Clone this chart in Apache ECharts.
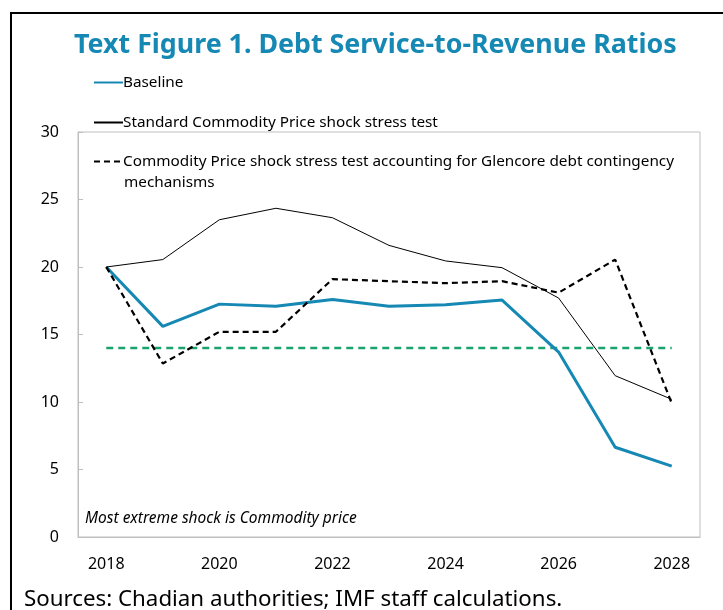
<!DOCTYPE html>
<html>
<head>
<meta charset="utf-8">
<script src="https://cdn.jsdelivr.net/npm/echarts@6/dist/echarts.min.js"></script>
<style>
  html, body { margin: 0; padding: 0; background: #fff; }
  #chart { width: 723px; height: 610px; }
</style>
</head>
<body>
<div id="chart"></div>
<script>
const years = ['2018', '2019', '2020', '2021', '2022', '2023', '2024', '2025', '2026', '2027', '2028'];
const baseline = [20.0, 15.6, 17.25, 17.1, 17.6, 17.1, 17.2, 17.55, 13.7, 6.65, 5.25];
const standardShock = [20.0, 20.55, 23.5, 24.35, 23.65, 21.6, 20.45, 19.95, 17.7, 11.95, 10.2];
const glencoreShock = [20.0, 12.85, 15.2, 15.2, 19.1, 18.95, 18.8, 18.95, 18.1, 20.55, 9.9];
const threshold = [14, 14, 14, 14, 14, 14, 14, 14, 14, 14, 14];

const names = {
  base: 'Baseline',
  std: 'Standard Commodity Price shock stress test',
  glen: 'Commodity Price shock stress test accounting for Glencore debt contingency',
};

const FONT = '"Noto Sans", sans-serif';
const BLUE = '#1688b4';

const chart = echarts.init(document.getElementById('chart'));

function legendFor(name, top) {
  return {
    data: [name],
    left: 88,
    top: top,
    itemWidth: 29,
    itemHeight: 14,
    itemGap: 0,
    selectedMode: false,
    itemStyle: { opacity: 0 },
    textStyle: { fontFamily: FONT, fontSize: 15.3, color: '#000', padding: [0, 0, 0, -5] },
  };
}

chart.setOption({
  animation: false,
  title: {
    text: 'Text Figure 1. Debt Service-to-Revenue Ratios',
    left: 69,
    top: 27,
    textStyle: { fontFamily: FONT, fontSize: 26.8, fontWeight: 'bold', color: BLUE },
  },
  legend: [
    legendFor(names.base, 70),
    legendFor(names.std, 110),
    legendFor(names.glen, 149),
  ],
  grid: { left: 78, right: 23, top: 132, bottom: 73, show: true, borderColor: '#bfbfbf', borderWidth: 1 },
  xAxis: {
    type: 'category',
    data: years,
    axisLine: { lineStyle: { color: '#bfbfbf' } },
    axisTick: { inside: true, interval: 1, length: 5, lineStyle: { color: '#bfbfbf' } },
    axisLabel: { interval: 1, margin: 19, fontFamily: FONT, fontSize: 16, color: '#000' },
  },
  yAxis: {
    type: 'value',
    min: 0,
    max: 30,
    interval: 5,
    splitLine: { show: false },
    axisLine: { show: true, lineStyle: { color: '#bfbfbf' } },
    axisTick: { show: true, inside: true, length: 5, lineStyle: { color: '#bfbfbf' } },
    axisLabel: { margin: 19, fontFamily: FONT, fontSize: 16, color: '#000' },
  },
  graphic: [
    { type: 'polyline', silent: true, shape: { points: [[11, 610], [11, 13], [723, 13]] }, style: { stroke: '#000', lineWidth: 2, fill: null } },
    { type: 'text', left: 124, top: 175, style: { text: 'mechanisms', font: '15.3px ' + FONT, fill: '#000' } },
    { type: 'text', left: 85, top: 511, style: { text: 'Most extreme shock is Commodity price', font: 'italic 15.5px ' + FONT, fill: '#000' } },
    { type: 'text', left: 24, top: 589, style: { text: 'Sources: Chadian authorities; IMF staff calculations.', font: '22.3px ' + FONT, fill: '#000' } },
  ],
  series: [
    {
      name: names.base, type: 'line', data: baseline, symbol: 'none',
      lineStyle: { color: BLUE, width: 3 }, itemStyle: { color: BLUE },
    },
    {
      name: names.std, type: 'line', data: standardShock, symbol: 'none',
      lineStyle: { color: '#000', width: 1 }, itemStyle: { color: '#000' },
    },
    {
      name: names.glen, type: 'line', data: glencoreShock, symbol: 'none',
      lineStyle: { color: '#000', width: 2.2, type: [6, 4] }, itemStyle: { color: '#000' },
    },
    {
      name: 'threshold', type: 'line', data: threshold, symbol: 'none', z: 1,
      lineStyle: { color: '#1ba36e', width: 2.5, type: [7, 5] },
    },
  ],
});
</script>
</body>
</html>
